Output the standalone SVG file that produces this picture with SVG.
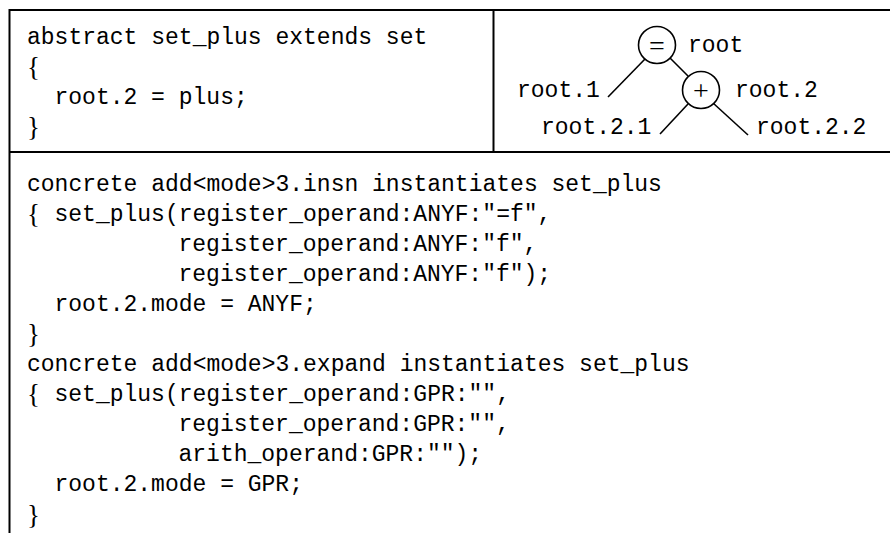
<svg xmlns="http://www.w3.org/2000/svg" width="890" height="533" viewBox="0 0 890 533">
<style>
.code{font-family:"Liberation Mono","DejaVu Sans Mono",monospace;font-size:23px;fill:#000}
.br{font-family:"Liberation Serif","DejaVu Serif",serif;font-size:27px;fill:#000}
.frame{stroke:#000;stroke-width:2;fill:none}
.edge{stroke:#000;stroke-width:1.6;fill:none}
.node circle{fill:#fff;stroke:#000;stroke-width:1.6}
.op{font-family:"Liberation Serif","DejaVu Serif",serif;font-size:28px;fill:#000;text-anchor:middle}
</style>
<rect width="890" height="533" fill="#fff"/>
<g id="frame">
<line class="frame" x1="9.5" y1="9" x2="9.5" y2="533"/>
<line class="frame" x1="9" y1="10" x2="890" y2="10"/>
<line class="frame" x1="9" y1="152" x2="890" y2="152"/>
<line class="frame" x1="493.5" y1="10" x2="493.5" y2="152"/>
</g>
<g id="abstract-block">
<text class="code" x="27" y="44">abstract set_plus extends set</text>
<text class="br" x="27" y="76">{</text>
<text class="code" x="54.5" y="104">root.2 = plus;</text>
<text class="br" x="27" y="136">}</text>
</g>
<g id="connectors">
<line class="edge" x1="645" y1="59" x2="608" y2="97"/>
<line class="edge" x1="670" y1="58" x2="688" y2="76"/>
<line class="edge" x1="688" y1="104" x2="660" y2="134"/>
<line class="edge" x1="713" y1="103" x2="748" y2="135"/>
</g>
<g id="node-root" class="node">
<circle cx="657" cy="45" r="18.5"/>
<text class="op" x="657" y="55">=</text>
<text class="code" x="688" y="52">root</text>
</g>
<g id="node-root2" class="node">
<circle cx="701" cy="90" r="18.5"/>
<text class="op" x="701" y="100">+</text>
<text class="code" x="735" y="97">root.2</text>
</g>
<g id="node-root1">
<text class="code" x="517" y="97">root.1</text>
</g>
<g id="node-root21">
<text class="code" x="541" y="134">root.2.1</text>
</g>
<g id="node-root22">
<text class="code" x="756" y="134">root.2.2</text>
</g>
<g id="concrete-insn">
<text class="code" x="27" y="191">concrete add&lt;mode&gt;3.insn instantiates set_plus</text>
<text class="br" x="27" y="223">{</text>
<text class="code" x="54.5" y="221">set_plus(register_operand:ANYF:"=f",</text>
<text class="code" x="178.5" y="251">register_operand:ANYF:"f",</text>
<text class="code" x="178.5" y="281">register_operand:ANYF:"f");</text>
<text class="code" x="54.5" y="311">root.2.mode = ANYF;</text>
<text class="br" x="27" y="343">}</text>
</g>
<g id="concrete-expand">
<text class="code" x="27" y="371">concrete add&lt;mode&gt;3.expand instantiates set_plus</text>
<text class="br" x="27" y="403">{</text>
<text class="code" x="54.5" y="401">set_plus(register_operand:GPR:"",</text>
<text class="code" x="178.5" y="431">register_operand:GPR:"",</text>
<text class="code" x="178.5" y="461">arith_operand:GPR:"");</text>
<text class="code" x="54.5" y="491">root.2.mode = GPR;</text>
<text class="br" x="27" y="524">}</text>
</g>
</svg>
